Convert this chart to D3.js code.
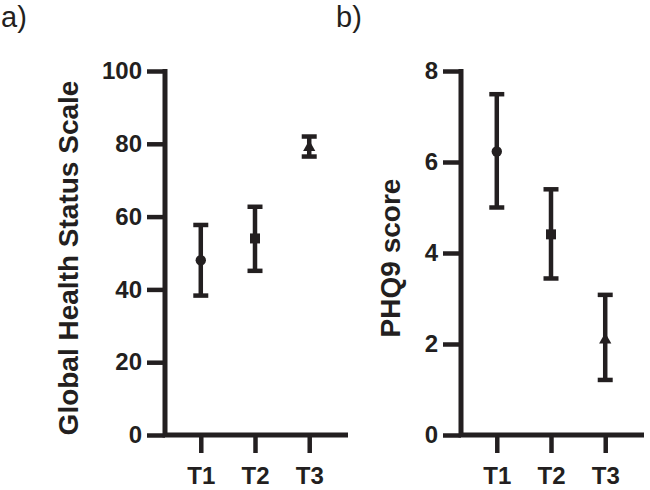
<!DOCTYPE html>
<html>
<head>
<meta charset="utf-8">
<script src="https://cdn.jsdelivr.net/npm/d3@7"></script>
<style>
  html, body { margin: 0; padding: 0; background: #fff; }
  svg { display: block; font-family: "Liberation Sans", Arial, sans-serif; }
</style>
</head>
<body>
<div id="chart"></div>
<script>
// timepoints
const timepoints = ["T1", "T2", "T3"];

// panel a: Global Health Status Scale (mean, lower, upper)
const ghsMean = [48, 54, 79];
const ghsLow = [38.3, 45.1, 76.5];
const ghsHigh = [57.7, 62.7, 82.0];
const ghsTicks = [0, 20, 40, 60, 80, 100];

// panel b: PHQ9 score (mean, lower, upper)
const phqMean = [6.23, 4.41, 2.09];
const phqLow = [5.0, 3.44, 1.21];
const phqHigh = [7.49, 5.40, 3.08];
const phqTicks = [0, 2, 4, 6, 8];

const markerShapes = [d3.symbolCircle, d3.symbolSquare, d3.symbolTriangle];
const markerSizes = [85, 100, 65];

const width = 650, height = 490;
const ink = "#231f20";

const svg = d3.select("#chart").append("svg")
    .attr("width", width)
    .attr("height", height);

function drawPanel(opts) {
    const { left, letter, letterX, title, titleX, ticks, yMax, mean, low, high } = opts;
    const top = 71, bottom = 435;
    const right = left + 183;

    const g = svg.append("g");

    const x = d3.scalePoint()
        .domain(timepoints)
        .range([left, left + 180])
        .padding(0.66);

    const y = d3.scaleLinear()
        .domain([0, yMax])
        .range([bottom, top]);

    // y axis
    const yAxis = g.append("g")
        .attr("transform", `translate(${left},0)`)
        .call(d3.axisLeft(y).tickValues(ticks).tickSize(18).tickPadding(5).tickSizeOuter(0));
    yAxis.select(".domain").remove();
    yAxis.selectAll(".tick line").attr("stroke", ink).attr("stroke-width", 4.5);
    yAxis.selectAll(".tick text")
        .attr("fill", ink)
        .attr("font-size", 24)
        .attr("font-weight", "bold")
        .attr("font-family", "'Liberation Sans', Arial, sans-serif");

    // x axis
    const xAxis = g.append("g")
        .attr("transform", `translate(0,${bottom})`)
        .call(d3.axisBottom(x).tickSize(18).tickPadding(14).tickSizeOuter(0));
    xAxis.select(".domain").remove();
    xAxis.selectAll(".tick line").attr("stroke", ink).attr("stroke-width", 4.5);
    xAxis.selectAll(".tick text")
        .attr("fill", ink)
        .attr("font-size", 24)
        .attr("font-weight", "bold")
        .attr("font-family", "'Liberation Sans', Arial, sans-serif");

    // axis lines
    g.append("path")
        .attr("d", `M${left},${top - 2}V${bottom}H${right}`)
        .attr("fill", "none")
        .attr("stroke", ink)
        .attr("stroke-width", 5)
        .attr("stroke-linejoin", "miter");

    // error bars
    const bars = g.append("g").selectAll("g")
        .data(timepoints.map((t, i) => ({ t, i, m: mean[i], lo: low[i], hi: high[i] })))
        .join("g");

    bars.append("line")
        .attr("x1", d => x(d.t)).attr("x2", d => x(d.t))
        .attr("y1", d => y(d.lo)).attr("y2", d => y(d.hi))
        .attr("stroke", ink).attr("stroke-width", 4.5);

    ["lo", "hi"].forEach(k => {
        bars.append("line")
            .attr("x1", d => x(d.t) - 7.5).attr("x2", d => x(d.t) + 7.5)
            .attr("y1", d => y(d[k])).attr("y2", d => y(d[k]))
            .attr("stroke", ink).attr("stroke-width", 4.5);
    });

    bars.append("path")
        .attr("transform", d => `translate(${x(d.t)},${y(d.m)})`)
        .attr("d", d => d3.symbol().type(markerShapes[d.i]).size(markerSizes[d.i])())
        .attr("fill", ink);

    // axis title
    g.append("text")
        .attr("transform", `translate(${titleX},${(top + bottom) / 2 + 5}) rotate(-90)`)
        .attr("text-anchor", "middle")
        .attr("font-size", 28)
        .attr("font-weight", "bold")
        .attr("fill", ink)
        .text(title);

    // panel letter
    g.append("text")
        .attr("x", letterX)
        .attr("y", 27)
        .attr("font-size", 29)
        .attr("fill", ink)
        .text(letter);
}

drawPanel({
    left: 165, letter: "a)", letterX: 1,
    title: "Global Health Status Scale", titleX: 78,
    ticks: ghsTicks, yMax: 100,
    mean: ghsMean, low: ghsLow, high: ghsHigh
});

drawPanel({
    left: 461, letter: "b)", letterX: 336,
    title: "PHQ9 score", titleX: 400,
    ticks: phqTicks, yMax: 8,
    mean: phqMean, low: phqLow, high: phqHigh
});
</script>
</body>
</html>
